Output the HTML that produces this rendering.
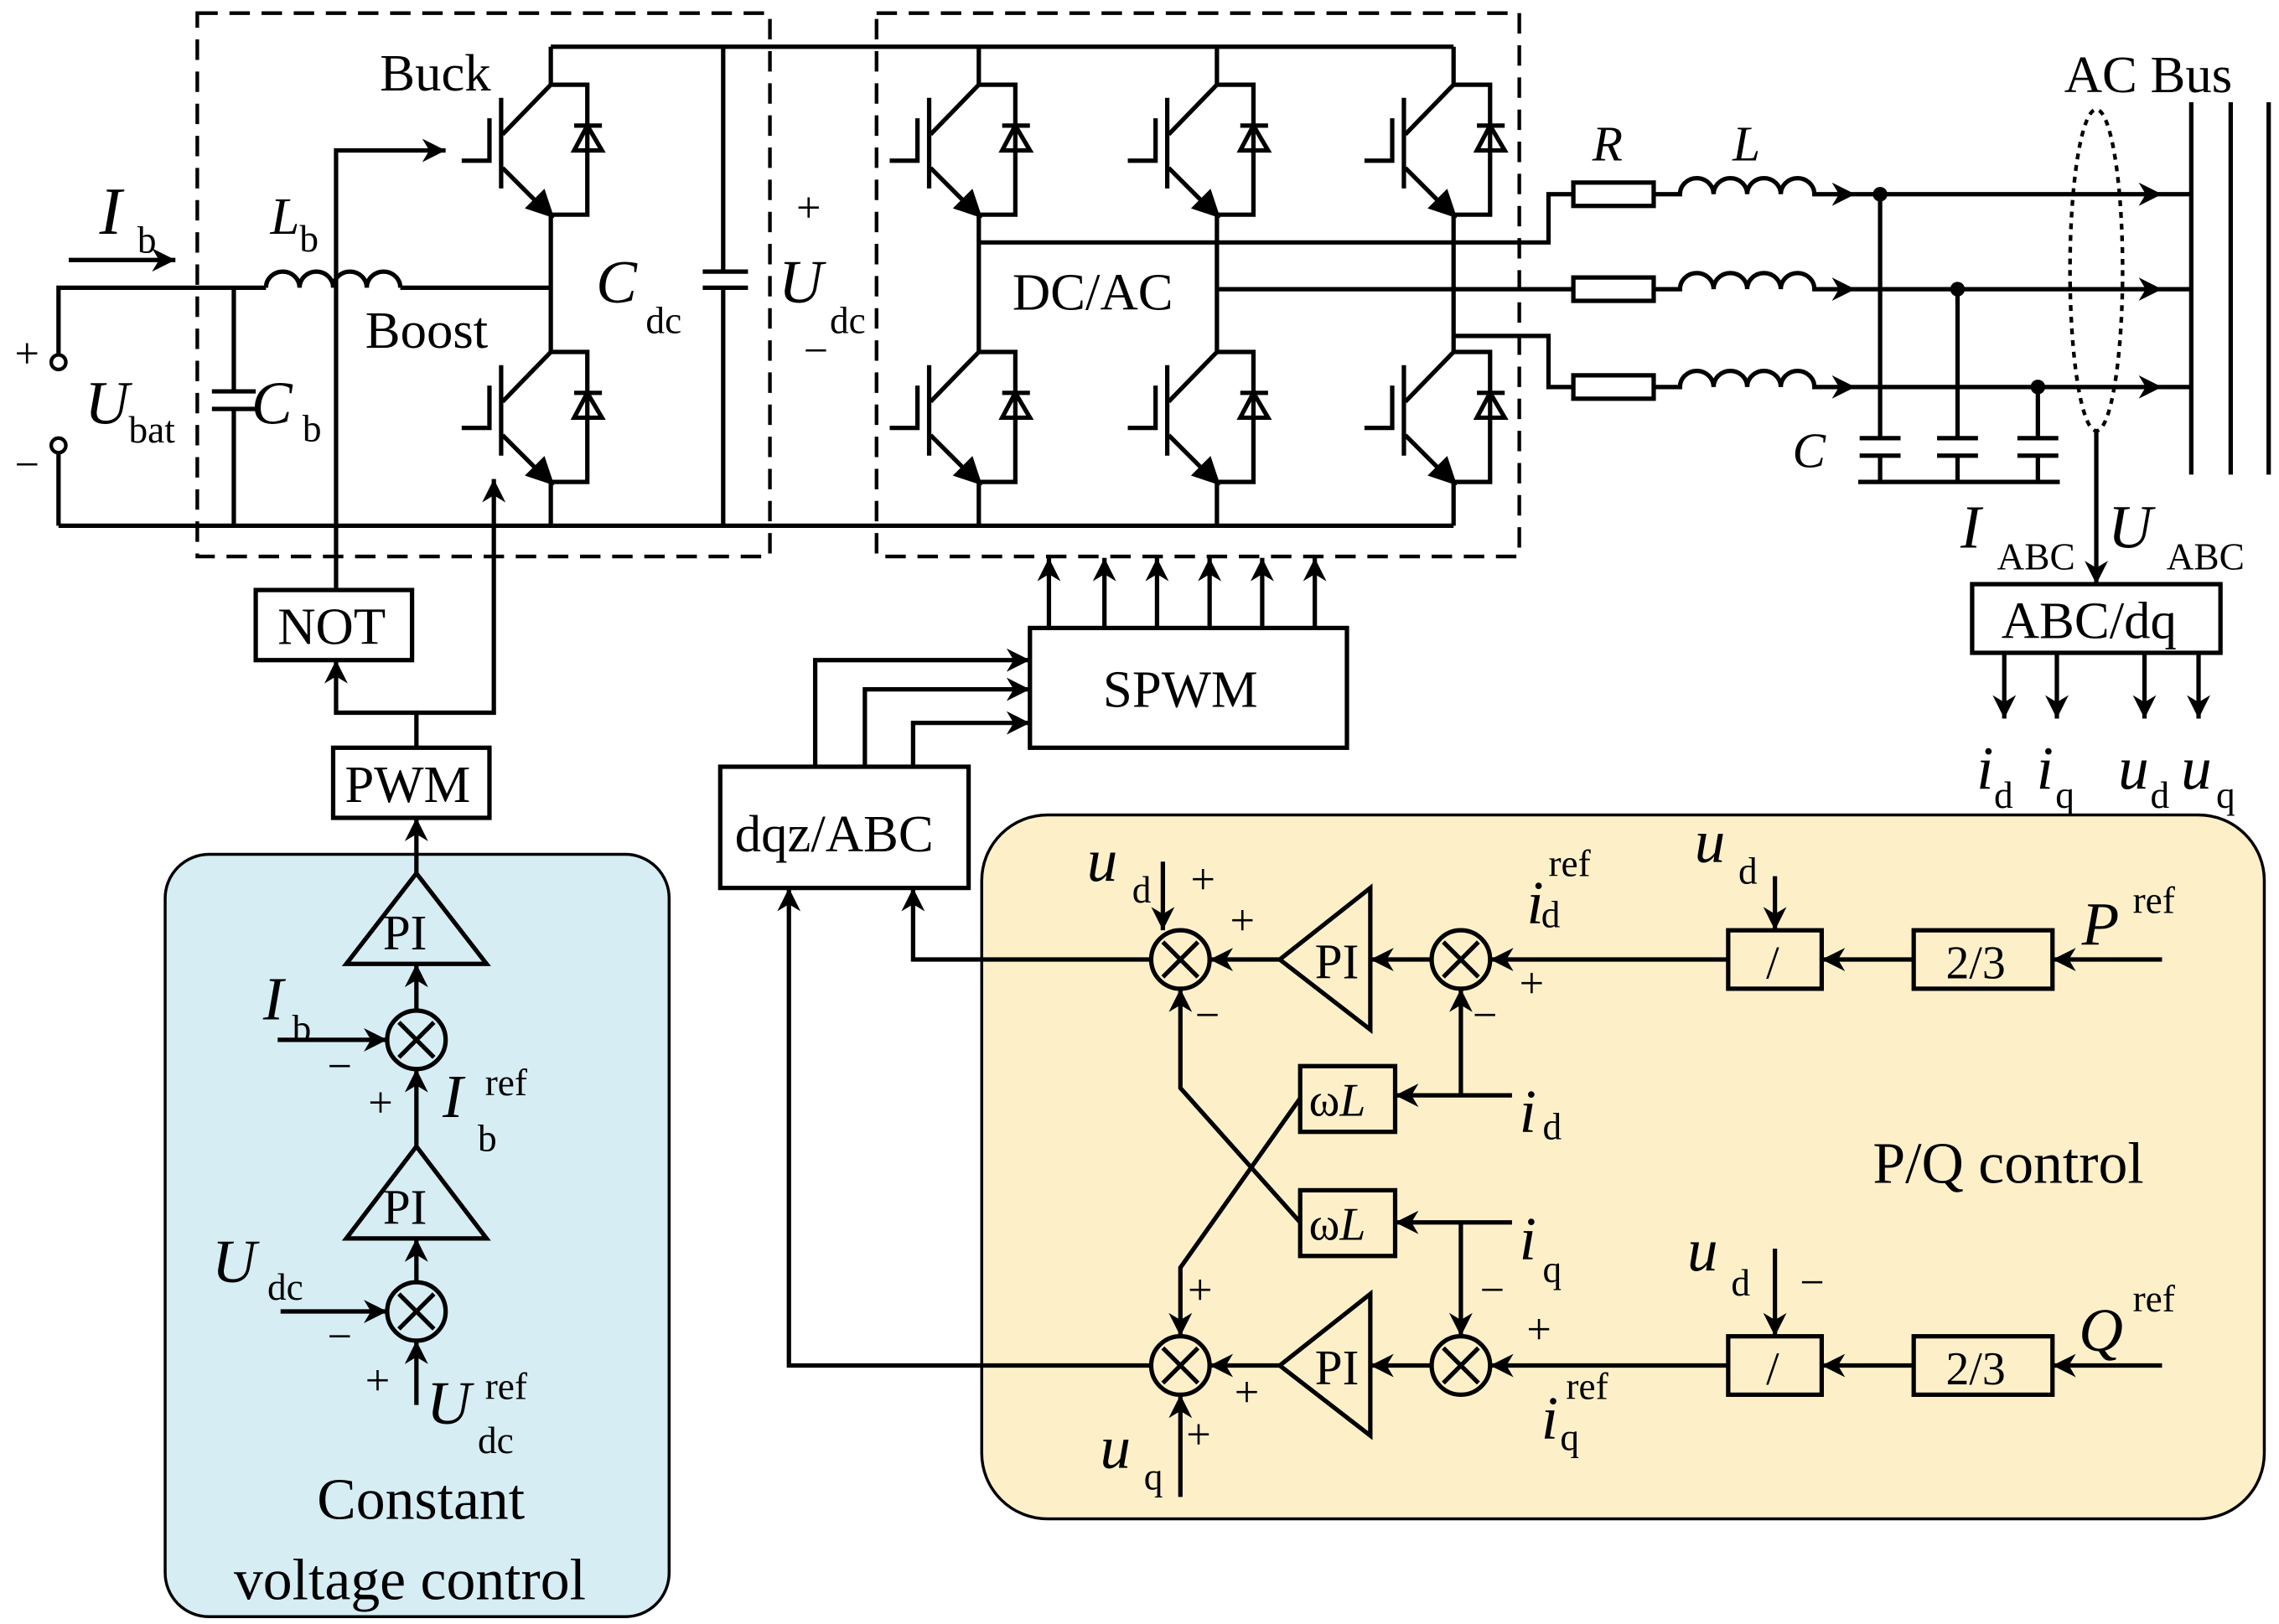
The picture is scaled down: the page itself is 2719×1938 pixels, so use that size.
<!DOCTYPE html>
<html><head><meta charset="utf-8"><style>
html,body{margin:0;padding:0;background:#fff}
svg{display:block}
text{font-family:"Liberation Serif",serif;fill:#000}
.v{font-style:italic}
</style></head><body>
<svg width="2719" height="1938" viewBox="0 0 1560 1112" xmlns="http://www.w3.org/2000/svg">
<defs>
<marker id="a" viewBox="0 0 10 10" refX="10" refY="5" markerWidth="6" markerHeight="6" markerUnits="userSpaceOnUse" orient="auto"><path d="M0,0 L10,5 L0,10 L3,5z" fill="#000"/></marker>
<marker id="b" viewBox="0 0 10 10" refX="10" refY="5" markerWidth="20" markerHeight="16" markerUnits="userSpaceOnUse" orient="auto"><path d="M0,0 L10,5 L0,10 L3,5z" fill="#000"/></marker>
<g id="igbt" fill="none" stroke="#000" stroke-width="3">
<path d="M0,0 V0 M0,0 L-33,34"/>
<path d="M-34,9 V71"/>
<path d="M-42,23 V52 H-61"/>
<path d="M-33,57 L-8,82"/>
<path d="M-15,84 L0,89 L-5,74z" fill="#000"/>
<path d="M0,0 H25 V89 H0"/>
<path d="M16,28 H35 M25,28 L16,45 H35z"/>
</g>
</defs>
<rect width="1560" height="1112" fill="#fff"/>
<!-- colored boxes -->
<rect x="113" y="585" width="345" height="522" rx="30" fill="#d5edf3" stroke="#000" stroke-width="2"/>
<rect x="672" y="558" width="878" height="482" rx="45" fill="#fdf0c9" stroke="#000" stroke-width="2"/>
<!-- dashed boxes -->
<g fill="none" stroke="#000" stroke-width="2.5" stroke-dasharray="14,8">
<rect x="135" y="9" width="392" height="372"/>
<rect x="600" y="9" width="440" height="372"/>
</g>
<g fill="none" stroke="#000" stroke-width="3">
<!-- buses -->
<path d="M377,32 H995"/>
<path d="M40,360 H995"/>
<!-- left input -->
<path d="M40,243 V197 H182"/>
<path d="M182,197 a11.5,11 0 0 1 23,0 a11.5,11 0 0 1 23,0 a11.5,11 0 0 1 23,0 a11.5,11 0 0 1 23,0"/>
<path d="M274,197 H377"/>
<path d="M40,310 V360"/>
<path d="M160,197 V268 M145,268 H175 M145,280 H175 M160,280 V360"/>
<!-- buck/boost leg -->
<path d="M377,32 V58 M377,147 V241 M377,330 V360"/>
<!-- Cdc -->
<path d="M495,32 V186 M481,186 H512 M481,197 H512 M495,197 V360"/>
<!-- inverter legs -->
<path d="M670,32 V58 M670,147 V241 M670,330 V360"/>
<path d="M833,32 V58 M833,147 V241 M833,330 V360"/>
<path d="M995,32 V58 M995,147 V241 M995,330 V360"/>
<!-- phases -->
<path d="M670,166 H1060 V133 H1077"/>
<path d="M833,198 H1077"/>
<path d="M995,230 H1060 V265 H1077"/>
<rect x="1077" y="125" width="55" height="16"/>
<rect x="1077" y="190" width="55" height="16"/>
<rect x="1077" y="257" width="55" height="16"/>
<path d="M1132,133 H1150 a11.5,11 0 0 1 23,0 a11.5,11 0 0 1 23,0 a11.5,11 0 0 1 23,0 a11.5,11 0 0 1 23,0 H1270" marker-end="url(#b)"/>
<path d="M1132,198 H1150 a11.5,11 0 0 1 23,0 a11.5,11 0 0 1 23,0 a11.5,11 0 0 1 23,0 a11.5,11 0 0 1 23,0 H1270" marker-end="url(#b)"/>
<path d="M1132,265 H1150 a11.5,11 0 0 1 23,0 a11.5,11 0 0 1 23,0 a11.5,11 0 0 1 23,0 a11.5,11 0 0 1 23,0 H1270" marker-end="url(#b)"/>
<path d="M1270,133 H1480" marker-end="url(#b)"/><path d="M1480,133 H1500"/>
<path d="M1270,198 H1480" marker-end="url(#b)"/><path d="M1480,198 H1500"/>
<path d="M1270,265 H1480" marker-end="url(#b)"/><path d="M1480,265 H1500"/>
<path d="M1500,70 V325 M1527,70 V325 M1553,70 V325"/>
<path d="M1287,133 V300 M1273,300 H1301 M1273,312 H1301 M1287,312 V330"/>
<path d="M1340,198 V300 M1326,300 H1354 M1326,312 H1354 M1340,312 V330"/>
<path d="M1395,265 V300 M1381,300 H1409 M1381,312 H1409 M1395,312 V330"/>
<path d="M1272,330 H1410"/>
</g>
<ellipse cx="1435" cy="185" rx="18" ry="110" fill="none" stroke="#000" stroke-width="2.5" stroke-dasharray="4,4"/>
<g fill="#000"><circle cx="1287" cy="133" r="5"/><circle cx="1340" cy="198" r="5"/><circle cx="1395" cy="265" r="5"/></g>
<circle cx="40" cy="248" r="5" fill="#fff" stroke="#000" stroke-width="2.5"/>
<circle cx="40" cy="305" r="5" fill="#fff" stroke="#000" stroke-width="2.5"/>
<!-- igbts -->
<use href="#igbt" x="377" y="58"/><use href="#igbt" x="377" y="241"/>
<use href="#igbt" x="670" y="58"/><use href="#igbt" x="670" y="241"/>
<use href="#igbt" x="833" y="58"/><use href="#igbt" x="833" y="241"/>
<use href="#igbt" x="995" y="58"/><use href="#igbt" x="995" y="241"/>
<g fill="none" stroke="#000" stroke-width="3">
<!-- input arrow -->
<path d="M47,178 H120" marker-end="url(#b)"/>
<!-- gate drives -->
<path d="M230,404 V103 H305" marker-end="url(#b)"/>
<path d="M285,512 V488 H230 V452" marker-end="url(#b)"/>
<path d="M285,488 H338 V328" marker-end="url(#b)"/>
<rect x="175" y="404" width="107" height="48"/>
<rect x="228" y="512" width="107" height="48"/>
<!-- ABC/dq -->
<path d="M1435,295 V400" marker-end="url(#b)"/>
<rect x="1350" y="400" width="170" height="47"/>
<path d="M1372,447 V492" marker-end="url(#b)"/>
<path d="M1408,447 V492" marker-end="url(#b)"/>
<path d="M1468,447 V492" marker-end="url(#b)"/>
<path d="M1505,447 V492" marker-end="url(#b)"/>
<!-- SPWM -->
<rect x="705" y="430" width="217" height="82"/>
<path d="M718,430 V382" marker-end="url(#b)"/>
<path d="M756,430 V382" marker-end="url(#b)"/>
<path d="M792,430 V382" marker-end="url(#b)"/>
<path d="M828,430 V382" marker-end="url(#b)"/>
<path d="M864,430 V382" marker-end="url(#b)"/>
<path d="M900,430 V382" marker-end="url(#b)"/>
<rect x="493" y="525" width="170" height="83"/>
<path d="M558,525 V452 H705" marker-end="url(#b)"/>
<path d="M592,525 V472 H705" marker-end="url(#b)"/>
<path d="M625,525 V495 H705" marker-end="url(#b)"/>
<!-- blue box -->
<path d="M285,598 V560" marker-end="url(#b)"/>
<path d="M285,598 L333,660 H237z"/>
<path d="M285,692 V660" marker-end="url(#b)"/>
<ellipse cx="285" cy="712" rx="20" ry="20"/>
<path d="M273,700 L297,724 M297,700 L273,724"/>
<path d="M190,712 H265" marker-end="url(#b)"/>
<path d="M285,785 V732" marker-end="url(#b)"/>
<path d="M285,785 L333,848 H237z"/>
<path d="M285,878 V848" marker-end="url(#b)"/>
<ellipse cx="285" cy="898" rx="20" ry="20"/>
<path d="M273,886 L297,910 M297,886 L273,910"/>
<path d="M192,898 H265" marker-end="url(#b)"/>
<path d="M285,962 V918" marker-end="url(#b)"/>
<!-- PQ control -->
<ellipse cx="808" cy="657" rx="20" ry="20"/><path d="M796,645 L820,669 M820,645 L796,669"/>
<ellipse cx="1000" cy="657" rx="20" ry="20"/><path d="M988,645 L1012,669 M1012,645 L988,669"/>
<ellipse cx="808" cy="935" rx="20" ry="20"/><path d="M796,923 L820,947 M820,923 L796,947"/>
<ellipse cx="1000" cy="935" rx="20" ry="20"/><path d="M988,923 L1012,947 M1012,923 L988,947"/>
<path d="M876,657 L938,608 V705z"/>
<path d="M876,935 L938,886 V983z"/>
<rect x="1183" y="637" width="64" height="40"/>
<rect x="1310" y="637" width="95" height="40"/>
<rect x="1183" y="915" width="64" height="40"/>
<rect x="1310" y="915" width="95" height="40"/>
<rect x="890" y="730" width="65" height="45"/>
<rect x="890" y="815" width="65" height="45"/>
<path d="M1480,657 H1405" marker-end="url(#b)"/>
<path d="M1310,657 H1247" marker-end="url(#b)"/>
<path d="M1183,657 H1020" marker-end="url(#b)"/>
<path d="M980,657 H938" marker-end="url(#b)"/>
<path d="M876,657 H828" marker-end="url(#b)"/>
<path d="M788,657 H625 V608" marker-end="url(#b)"/>
<path d="M1480,935 H1405" marker-end="url(#b)"/>
<path d="M1310,935 H1247" marker-end="url(#b)"/>
<path d="M1183,935 H1020" marker-end="url(#b)"/>
<path d="M980,935 H938" marker-end="url(#b)"/>
<path d="M876,935 H828" marker-end="url(#b)"/>
<path d="M788,935 H540 V608" marker-end="url(#b)"/>
<path d="M1215,600 V637" marker-end="url(#b)"/>
<path d="M1215,855 V915" marker-end="url(#b)"/>
<path d="M796,590 V637" marker-end="url(#b)"/>
<path d="M808,1025 V955" marker-end="url(#b)"/>
<path d="M1035,750 H955" marker-end="url(#b)"/>
<path d="M1000,750 V677" marker-end="url(#b)"/>
<path d="M1035,837 H955" marker-end="url(#b)"/>
<path d="M1000,837 V915" marker-end="url(#b)"/>
<path d="M890,837 L808,745 V677" marker-end="url(#b)"/>
<path d="M890,752 L808,868 V915" marker-end="url(#b)"/>
</g>
<!-- text -->
<g font-size="36">
<text x="260" y="62">Buck</text>
<text x="250" y="238">Boost</text>
<text x="693" y="212">DC/AC</text>
<text x="1413" y="63">AC Bus</text>
<text x="190" y="441">NOT</text>
<text x="236" y="549">PWM</text>
<text x="755" y="484">SPWM</text>
<text x="503" y="583">dqz/ABC</text>
<text x="1370" y="437">ABC/dq</text>
<text x="262" y="650" font-size="34">PI</text>
<text x="262" y="838" font-size="34">PI</text>
<text x="900" y="670" font-size="34">PI</text>
<text x="900" y="948" font-size="34">PI</text>
<text x="1209" y="670" font-size="32">/</text>
<text x="1209" y="948" font-size="32">/</text>
<text x="1332" y="670" font-size="32">2/3</text>
<text x="1332" y="948" font-size="32">2/3</text>
<text x="896" y="764" font-size="32">ω<tspan class="v">L</tspan></text>
<text x="896" y="849" font-size="32">ω<tspan class="v">L</tspan></text>
<text x="1282" y="810" font-size="40">P/Q control</text>
<text x="217" y="1040" font-size="40">Constant</text>
<text x="160" y="1095" font-size="40">voltage control</text>
</g>
<g font-size="42" class="v">
<text x="68" y="160" font-size="46">I</text>
<text x="185" y="160" font-size="36">L</text>
<text x="58" y="290">U</text>
<text x="172" y="290">C</text>
<text x="408" y="207">C</text>
<text x="533" y="207">U</text>
<text x="1090" y="110" font-size="34">R</text>
<text x="1186" y="110" font-size="34">L</text>
<text x="1227" y="320" font-size="34">C</text>
<text x="1342" y="375">I</text>
<text x="1443" y="375">U</text>
<text x="1353" y="540">i</text><text x="1394" y="540">i</text>
<text x="1450" y="540">u</text><text x="1493" y="540">u</text>
<text x="180" y="698">I</text>
<text x="303" y="765">I</text>
<text x="145" y="878">U</text>
<text x="292" y="975">U</text>
<text x="744" y="603">u</text>
<text x="1045" y="632">i</text>
<text x="1160" y="590">u</text>
<text x="1425" y="647">P</text>
<text x="1040" y="775">i</text>
<text x="1040" y="862">i</text>
<text x="1155" y="870">u</text>
<text x="1423" y="925">Q</text>
<text x="1055" y="985">i</text>
<text x="753" y="1005">u</text>
</g>
<g font-size="26">
<text x="94" y="173">b</text>
<text x="205" y="172">b</text>
<text x="88" y="303">bat</text>
<text x="207" y="302">b</text>
<text x="442" y="228">dc</text>
<text x="568" y="228">dc</text>
<text x="1367" y="390">ABC</text><text x="1483" y="390">ABC</text>
<text x="1365" y="553">d</text><text x="1407" y="553">q</text>
<text x="1472" y="553">d</text><text x="1517" y="553">q</text>
<text x="200" y="713">b</text>
<text x="327" y="788">b</text><text x="332" y="750">ref</text>
<text x="183" y="890">dc</text>
<text x="327" y="995">dc</text><text x="332" y="958">ref</text>
<text x="775" y="618">d</text>
<text x="1055" y="635">d</text><text x="1060" y="600">ref</text>
<text x="1190" y="605">d</text>
<text x="1460" y="625">ref</text>
<text x="1056" y="780">d</text>
<text x="1056" y="878">q</text>
<text x="1185" y="887">d</text>
<text x="1460" y="898">ref</text>
<text x="1068" y="993">q</text><text x="1072" y="958">ref</text>
<text x="783" y="1020">q</text>
</g>
<g font-size="30">
<text x="10" y="252">+</text><text x="10" y="328">−</text>
<text x="545" y="152">+</text><text x="550" y="250">−</text>
<text x="224" y="740">−</text><text x="252" y="765">+</text>
<text x="224" y="925">−</text><text x="250" y="955">+</text>
<text x="815" y="612">+</text><text x="842" y="640">+</text><text x="818" y="705">−</text>
<text x="1040" y="683">+</text><text x="1008" y="705">−</text>
<text x="1013" y="893">−</text><text x="1045" y="920">+</text>
<text x="1232" y="888">−</text>
<text x="813" y="893">+</text><text x="845" y="963">+</text><text x="812" y="992">+</text>
</g>
</svg>
</body></html>
